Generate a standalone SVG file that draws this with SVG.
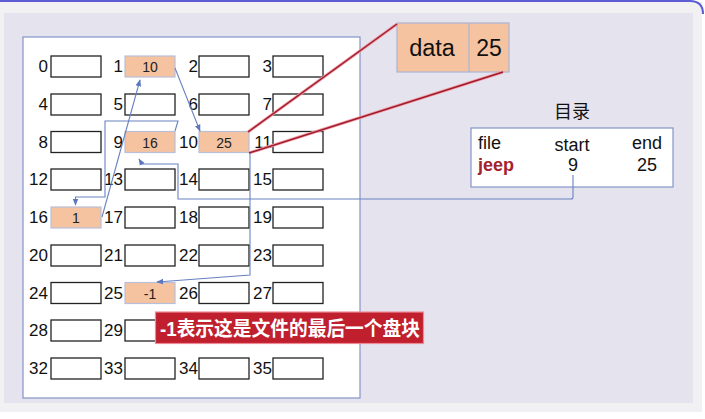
<svg xmlns="http://www.w3.org/2000/svg" width="705" height="419" viewBox="0 0 705 419">
<defs>
<style>
.c{fill:#fff;stroke:#222;stroke-width:1.3}
.h{fill:#f5c3a0;stroke:#b8bfd8;stroke-width:1.2}
.n{font-family:"Liberation Sans",Arial,sans-serif;font-size:17px;fill:#111;text-anchor:end}
.v{font-family:"Liberation Sans",Arial,sans-serif;font-size:14px;fill:#222;text-anchor:middle}
.t{font-family:"Liberation Sans",Arial,sans-serif;font-size:18px;fill:#111}
.cn{fill:none;stroke:#6a82c2;stroke-width:1.1}
.rl1{stroke:#f29aa6;stroke-width:3;fill:none}
.rl2{stroke:#9e1b2a;stroke-width:1.4;fill:none}
</style>
<marker id="ar" viewBox="0 0 10 10" refX="9" refY="5" markerWidth="7" markerHeight="7" orient="auto" markerUnits="userSpaceOnUse">
<path d="M0,1 L10,5 L0,9 z" fill="#5b76c0"/>
</marker>
</defs>
<rect x="0" y="0" width="705" height="419" fill="#fff"/>
<rect x="0" y="2" width="702" height="410" fill="#f1f1f4"/>
<path d="M0,1 H690 Q703,1 703,14" fill="none" stroke="#5c5cd4" stroke-width="2"/>
<rect x="4" y="13" width="689" height="390" fill="#e5e3ee"/>
<rect x="23" y="37" width="337" height="361" fill="#fff" stroke="#8494c8" stroke-width="1.2"/>

<g id="cell0"><rect class="c" x="51" y="56" width="50" height="21"/><text class="n" x="48" y="72">0</text></g>
<g id="cell1"><rect class="h" x="125" y="56" width="50" height="21"/><text class="n" x="123" y="72">1</text><text class="v" x="150" y="72">10</text></g>
<g id="cell2"><rect class="c" x="199" y="56" width="50" height="21"/><text class="n" x="198" y="72">2</text></g>
<g id="cell3"><rect class="c" x="273" y="56" width="50" height="21"/><text class="n" x="272" y="72">3</text></g>

<g id="cell4"><rect class="c" x="51" y="94" width="50" height="21"/><text class="n" x="48" y="110">4</text></g>
<g id="cell5"><rect class="c" x="125" y="94" width="50" height="21"/><text class="n" x="123" y="110">5</text></g>
<g id="cell6"><rect class="c" x="199" y="94" width="50" height="21"/><text class="n" x="198" y="110">6</text></g>
<g id="cell7"><rect class="c" x="273" y="94" width="50" height="21"/><text class="n" x="272" y="110">7</text></g>

<g id="cell8"><rect class="c" x="51" y="131.5" width="50" height="21"/><text class="n" x="48" y="147.5">8</text></g>
<g id="cell9"><rect class="h" x="125" y="131.5" width="50" height="21"/><text class="n" x="123" y="147.5">9</text><text class="v" x="150" y="147.5">16</text></g>
<g id="cell10"><rect class="h" x="199" y="131.5" width="50" height="21"/><text class="n" x="198" y="147.5">10</text><text class="v" x="224" y="148">25</text></g>
<g id="cell11"><rect class="c" x="273" y="131.5" width="50" height="21"/><text class="n" x="272" y="147.5">11</text></g>

<g id="cell12"><rect class="c" x="51" y="169" width="50" height="21"/><text class="n" x="48" y="185">12</text></g>
<g id="cell13"><rect class="c" x="125" y="169" width="50" height="21"/><text class="n" x="123" y="185">13</text></g>
<g id="cell14"><rect class="c" x="199" y="169" width="50" height="21"/><text class="n" x="198" y="185">14</text></g>
<g id="cell15"><rect class="c" x="273" y="169" width="50" height="21"/><text class="n" x="272" y="185">15</text></g>

<g id="cell16"><rect class="h" x="51" y="207" width="50" height="21"/><text class="n" x="48" y="223">16</text><text class="v" x="76" y="223">1</text></g>
<g id="cell17"><rect class="c" x="125" y="207" width="50" height="21"/><text class="n" x="123" y="223">17</text></g>
<g id="cell18"><rect class="c" x="199" y="207" width="50" height="21"/><text class="n" x="198" y="223">18</text></g>
<g id="cell19"><rect class="c" x="273" y="207" width="50" height="21"/><text class="n" x="272" y="223">19</text></g>

<g id="cell20"><rect class="c" x="51" y="245" width="50" height="21"/><text class="n" x="48" y="261">20</text></g>
<g id="cell21"><rect class="c" x="125" y="245" width="50" height="21"/><text class="n" x="123" y="261">21</text></g>
<g id="cell22"><rect class="c" x="199" y="245" width="50" height="21"/><text class="n" x="198" y="261">22</text></g>
<g id="cell23"><rect class="c" x="273" y="245" width="50" height="21"/><text class="n" x="272" y="261">23</text></g>

<g id="cell24"><rect class="c" x="51" y="282.5" width="50" height="21"/><text class="n" x="48" y="298.5">24</text></g>
<g id="cell25"><rect class="h" x="125" y="282.5" width="50" height="21"/><text class="n" x="123" y="298.5">25</text><text class="v" x="150" y="299">-1</text></g>
<g id="cell26"><rect class="c" x="199" y="282.5" width="50" height="21"/><text class="n" x="198" y="298.5">26</text></g>
<g id="cell27"><rect class="c" x="273" y="282.5" width="50" height="21"/><text class="n" x="272" y="298.5">27</text></g>

<g id="cell28"><rect class="c" x="51" y="320" width="50" height="21"/><text class="n" x="48" y="336">28</text></g>
<g id="cell29"><rect class="c" x="125" y="320" width="50" height="21"/><text class="n" x="123" y="336">29</text></g>
<g id="cell30"><rect class="c" x="199" y="320" width="50" height="21"/></g>
<g id="cell31"><rect class="c" x="273" y="320" width="50" height="21"/></g>

<g id="cell32"><rect class="c" x="51" y="358" width="50" height="21"/><text class="n" x="48" y="374">32</text></g>
<g id="cell33"><rect class="c" x="125" y="358" width="50" height="21"/><text class="n" x="123" y="374">33</text></g>
<g id="cell34"><rect class="c" x="199" y="358" width="50" height="21"/><text class="n" x="198" y="374">34</text></g>
<g id="cell35"><rect class="c" x="273" y="358" width="50" height="21"/><text class="n" x="272" y="374">35</text></g>

<g id="datablock">
<rect x="397" y="23" width="112" height="49" fill="#f5c39f" stroke="#aab4d4" stroke-width="1.2"/>
<line x1="469" y1="23" x2="469" y2="72" stroke="#aab4d4" stroke-width="1.2"/>
<text x="432" y="56" font-family="'Liberation Sans',Arial,sans-serif" font-size="23.5" fill="#111" text-anchor="middle">data</text>
<text x="489" y="56" font-family="'Liberation Sans',Arial,sans-serif" font-size="23" fill="#111" text-anchor="middle">25</text>
</g>

<g id="directory">
<text x="572" y="118" font-family="'Liberation Sans','Noto Sans CJK SC',sans-serif" font-size="18" fill="#111" text-anchor="middle">目录</text>
<rect x="471" y="128" width="202" height="59" fill="#fff" stroke="#8494c8" stroke-width="1.2"/>
<text class="t" x="478" y="149">file</text>
<text class="t" x="572" y="151" text-anchor="middle">start</text>
<text class="t" x="662" y="149" text-anchor="end">end</text>
<text x="478" y="171" font-family="'Liberation Sans',Arial,sans-serif" font-size="18" font-weight="bold" fill="#a3222f">jeep</text>
<text class="t" x="573" y="171" text-anchor="middle">9</text>
<text class="t" x="647" y="171" text-anchor="middle">25</text>
</g>

<g id="connectors">
<path class="rl1" d="M248,132 L397,24"/>
<path class="rl2" d="M248,132 L397,24"/>
<path class="rl1" d="M249,153 L503,72"/>
<path class="rl2" d="M249,153 L503,72"/>
<path class="cn" d="M573,175 V197 Q573,199 571,199 H178 V164 H142 L139,159" marker-end="url(#ar)"/>
<path class="cn" d="M175,131 L178,121 H105 V197 H75.5 V205" marker-end="url(#ar)"/>
<path class="cn" d="M102,217 L140,80" marker-end="url(#ar)"/>
<path class="cn" d="M175,68 L200,131" marker-end="url(#ar)"/>
<path class="cn" d="M250,153 V275 L157,282" marker-end="url(#ar)"/>
</g>

<g id="callout">
<rect x="155.5" y="312" width="268" height="31.5" fill="#c01f2e" stroke="#ee8a96" stroke-width="1.2"/>
<text x="160" y="336" font-family="'Liberation Sans','Noto Sans CJK SC',sans-serif" font-size="20" font-weight="bold" fill="#fff" textLength="260" lengthAdjust="spacingAndGlyphs">-1表示这是文件的最后一个盘块</text>
</g>
</svg>
